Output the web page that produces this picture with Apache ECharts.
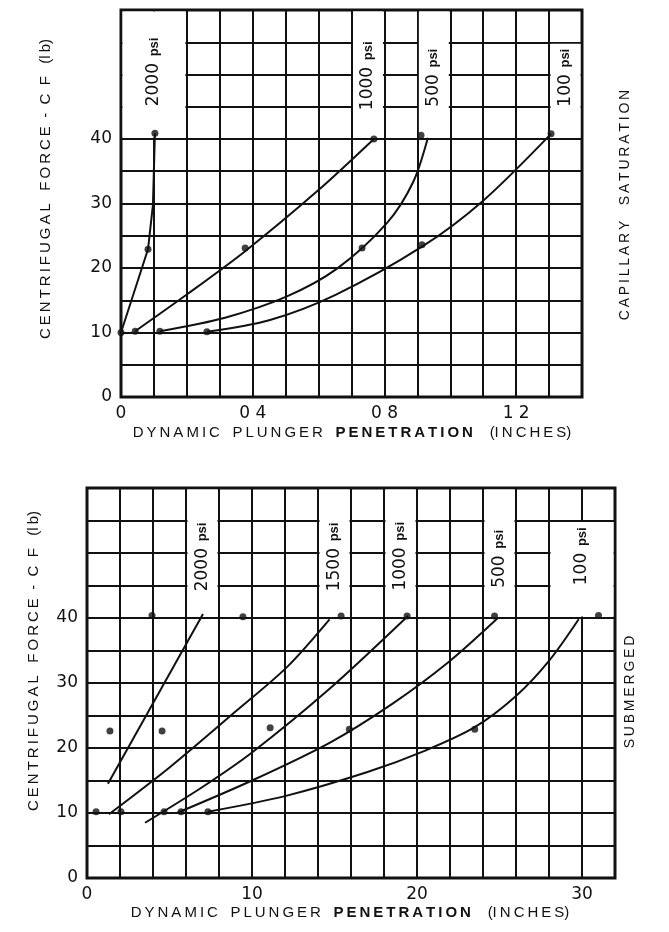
<!DOCTYPE html>
<html>
<head>
<meta charset="utf-8">
<script src="https://cdn.jsdelivr.net/npm/echarts@6/dist/echarts.min.js"></script>
<style>
  html, body { margin: 0; padding: 0; background: #fff; }
  #chart { width: 669px; height: 932px; }
</style>
</head>
<body>
<div id="chart"></div>
<script>
// ---------- shared axis ticks ----------
const cfTicks = [0, 10, 20, 30, 40];

// ---------- capillary saturation (upper panel), penetration in inches ----------
const capTickValues = [0, 0.4, 0.8, 1.2];
const capTickText = ['0', '0 4', '0 8', '1 2'];
const capPsi = ['2000', '1000', '500', '100'];

// measured points [penetration, CF]
const capDots2000 = [[0.0, 10.0], [0.082, 22.9], [0.103, 40.9]];
const capDots1000 = [[0.043, 10.2], [0.377, 23.1], [0.768, 40.0]];
const capDots500 = [[0.118, 10.2], [0.732, 23.1], [0.911, 40.6]];
const capDots100 = [[0.261, 10.1], [0.914, 23.6], [1.306, 40.8]];

// faired curves
const capCurve2000 = [[0.0, 10.0], [0.082, 22.9], [0.097, 29.8], [0.103, 40.9]];
const capCurve1000 = [[0.043, 10.2], [0.203, 16.0], [0.377, 22.6], [0.598, 32.0], [0.768, 40.0]];
const capCurve500 = [[0.118, 10.2], [0.316, 12.3], [0.504, 15.6], [0.656, 19.9], [0.808, 27.0], [0.887, 33.3], [0.932, 40.2]];
const capCurve100 = [[0.261, 10.1], [0.45, 11.9], [0.65, 15.8], [0.914, 23.3], [1.099, 30.4], [1.306, 40.8]];

// ---------- submerged (lower panel), penetration in inches ----------
const subTickValues = [0, 10, 20, 30];
const subPsi = ['2000', '1500', '1000', '500', '100'];

// measured points, grouped by CF level
const subDotsCF10 = [[0.55, 10.2], [2.06, 10.2], [4.67, 10.2], [5.7, 10.2], [7.33, 10.2]];
const subDotsCF23 = [[1.39, 22.6], [4.55, 22.6], [11.1, 23.1], [15.9, 22.9], [23.5, 22.9]];
const subDotsCF40 = [[3.94, 40.4], [9.45, 40.2], [15.4, 40.3], [19.4, 40.3], [24.7, 40.3], [31.0, 40.4]];

// faired curves
const subCurve2000 = [[1.27, 14.5], [7.03, 40.6]];
const subCurve1500 = [[1.33, 9.8], [5.0, 17.0], [9.0, 25.6], [12.1, 32.4], [14.7, 39.8]];
const subCurve1000 = [[3.52, 8.5], [7.0, 14.0], [10.0, 19.3], [14.7, 29.1], [19.45, 40.3]];
const subCurve500 = [[5.45, 10.0], [10.0, 15.0], [14.7, 20.8], [18.5, 26.8], [21.9, 33.2], [24.9, 40.0]];
const subCurve100 = [[7.33, 10.2], [12.0, 12.6], [17.0, 16.3], [20.5, 19.6], [23.5, 23.2], [26.0, 28.0], [28.0, 33.4], [29.8, 39.8]];

// ---------- tag boxes (grid-cell extents: x0, x1, yBottom, yTop, text centre) ----------
const capTagBoxes = [[0, 0.2, 40, 60, 50.4], [0.7, 0.8, 40, 60, 49.8], [0.9, 1.0, 40, 60, 49.5], [1.3, 1.4, 40, 55, 49.5]];
const subTagBoxes = [[6, 8, 40, 60, 49.4], [14, 16, 40, 60, 49.4], [18, 20, 40, 60, 49.5], [24, 26, 40, 60, 49.1], [28, 32, 40, 55, 49.5]];

const INK = '#111';
const NUM_FONT = 'DejaVu Sans';
const TXT_FONT = 'Liberation Sans';

// spread capitals a little, the way the lettering is set
function spaced(s) { return s.split('').join('\u2009'); }

function tagRenderer(texts) {
  return function (params, api) {
    const x0 = api.value(0), x1 = api.value(1), yb = api.value(2), yt = api.value(3), yc = api.value(4);
    const a = api.coord([x0, yt]);
    const b = api.coord([x1, yb]);
    const cx = (a[0] + b[0]) / 2;
    const cy = api.coord([x0, yc])[1];
    return {
      type: 'group',
      children: [
        { type: 'rect', shape: { x: a[0] + 1.5, y: a[1] + 1.5, width: b[0] - a[0] - 3, height: b[1] - a[1] - 3 }, style: { fill: '#fff' } },
        {
          type: 'text', x: cx, y: cy, rotation: Math.PI / 2,
          style: {
            text: '{n|' + texts[params.dataIndex] + '}  {p|psi}',
            align: 'center', verticalAlign: 'middle',
            rich: {
              n: { fontFamily: NUM_FONT, fontSize: 17, fill: INK },
              p: { fontFamily: TXT_FONT, fontSize: 13, fill: INK, fontWeight: 'bold' }
            }
          }
        }
      ]
    };
  };
}

function curve(data, xi, yi, smooth) {
  return { type: 'line', xAxisIndex: xi, yAxisIndex: yi, data: data, symbol: 'none', smooth: smooth,
    lineStyle: { color: INK, width: 2 }, z: 5, silent: true };
}
function dots(data, xi, yi) {
  return { type: 'scatter', xAxisIndex: xi, yAxisIndex: yi, data: data, symbolSize: 7,
    itemStyle: { color: INK }, z: 6, silent: true };
}

const splitStyle = { show: true, lineStyle: { color: INK, width: 2 } };
const labelStyle = { color: INK, fontFamily: NUM_FONT, fontSize: 17 };
const yTitle = spaced('CENTRIFUGAL') + '   ' + spaced('FORCE') + '  -  C  F   (' + spaced('lb') + ')';
const xTitleRich = {
  a: { fontFamily: TXT_FONT, fontSize: 15, fill: INK },
  b: { fontFamily: TXT_FONT, fontSize: 15, fill: INK, fontWeight: 'bold' }
};
const xTitle = '{a|' + spaced('DYNAMIC') + '   ' + spaced('PLUNGER') + '   }{b|' + spaced('PENETRATION') + '}{a|    (' + spaced('INCHES') + ')}';

const chart = echarts.init(document.getElementById('chart'), null, { renderer: 'canvas' });
chart.setOption({
  animation: false,
  backgroundColor: '#fff',
  grid: [
    { left: 121, top: 10, width: 461, height: 387, show: true, borderColor: INK, borderWidth: 3, backgroundColor: '#fff' },
    { left: 87, top: 488, width: 528, height: 390, show: true, borderColor: INK, borderWidth: 3, backgroundColor: '#fff' }
  ],
  xAxis: [
    { gridIndex: 0, type: 'value', min: 0, max: 1.4, interval: 0.1,
      axisLine: { show: false }, axisTick: { show: false }, splitLine: splitStyle,
      axisLabel: Object.assign({ customValues: capTickValues, margin: 8,
        formatter: v => capTickText[capTickValues.findIndex(t => Math.abs(t - v) < 1e-6)] }, labelStyle) },
    { gridIndex: 1, type: 'value', min: 0, max: 32, interval: 2,
      axisLine: { show: false }, axisTick: { show: false }, splitLine: splitStyle,
      axisLabel: Object.assign({ customValues: subTickValues, margin: 8 }, labelStyle) }
  ],
  yAxis: [
    { gridIndex: 0, type: 'value', min: 0, max: 60, interval: 5,
      axisLine: { show: false }, axisTick: { show: false }, splitLine: splitStyle,
      axisLabel: Object.assign({ customValues: cfTicks, margin: 9 }, labelStyle) },
    { gridIndex: 1, type: 'value', min: 0, max: 60, interval: 5,
      axisLine: { show: false }, axisTick: { show: false }, splitLine: splitStyle,
      axisLabel: Object.assign({ customValues: cfTicks, margin: 9 }, labelStyle) }
  ],
  graphic: [
    { type: 'text', x: 46, y: 189, rotation: Math.PI / 2,
      style: { text: yTitle, fontFamily: TXT_FONT, fontSize: 15, fill: INK, align: 'center', verticalAlign: 'middle' } },
    { type: 'text', x: 34, y: 661, rotation: Math.PI / 2,
      style: { text: yTitle, fontFamily: TXT_FONT, fontSize: 15, fill: INK, align: 'center', verticalAlign: 'middle' } },
    { type: 'text', x: 352, y: 433,
      style: { text: xTitle, align: 'center', verticalAlign: 'middle', rich: xTitleRich } },
    { type: 'text', x: 350, y: 913,
      style: { text: xTitle, align: 'center', verticalAlign: 'middle', rich: xTitleRich } },
    { type: 'text', x: 625, y: 205, rotation: Math.PI / 2,
      style: { text: spaced('CAPILLARY') + '    ' + spaced('SATURATION'), fontFamily: TXT_FONT, fontSize: 14, fill: INK, align: 'center', verticalAlign: 'middle' } },
    { type: 'text', x: 630, y: 692, rotation: Math.PI / 2,
      style: { text: spaced('SUBMERGED'), fontFamily: TXT_FONT, fontSize: 14, fill: INK, align: 'center', verticalAlign: 'middle' } }
  ],
  series: [
    { type: 'custom', xAxisIndex: 0, yAxisIndex: 0, data: capTagBoxes, renderItem: tagRenderer(capPsi), z: 3, silent: true },
    { type: 'custom', xAxisIndex: 1, yAxisIndex: 1, data: subTagBoxes, renderItem: tagRenderer(subPsi), z: 3, silent: true },
    curve(capCurve2000, 0, 0, false), curve(capCurve1000, 0, 0, 0.3), curve(capCurve500, 0, 0, 0.3), curve(capCurve100, 0, 0, 0.3),
    dots(capDots2000, 0, 0), dots(capDots1000, 0, 0), dots(capDots500, 0, 0), dots(capDots100, 0, 0),
    curve(subCurve2000, 1, 1, false), curve(subCurve1500, 1, 1, 0.3), curve(subCurve1000, 1, 1, 0.3), curve(subCurve500, 1, 1, 0.3), curve(subCurve100, 1, 1, 0.3),
    dots(subDotsCF10, 1, 1), dots(subDotsCF23, 1, 1), dots(subDotsCF40, 1, 1)
  ]
});
</script>
</body>
</html>
